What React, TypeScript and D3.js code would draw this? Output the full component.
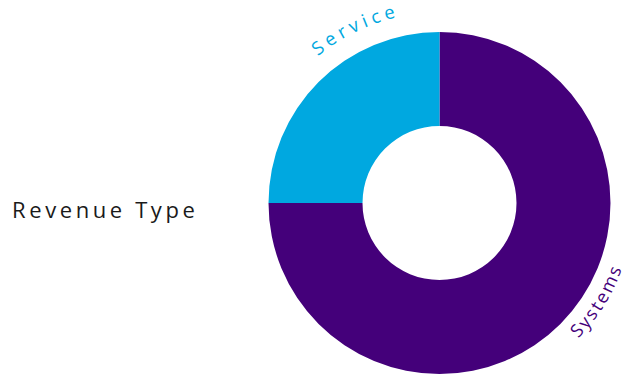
import React from "react";
import * as d3 from "d3";

const categories = ["Systems", "Service"];
const values = [75, 25];
const colors = ["#44007A", "#00A8E0"];
const title = "Revenue Type";

// layout (not data)
const W = 622, H = 377;
const cx = 439.5, cy = 203;
const outerR = 171, innerR = 77;
const labelLayout = [
  { angle: 121.8, r: 194, outward: false, size: 18, ls: 2.2 },
  { angle: -25.8, r: 190.5, outward: true, size: 18.5, ls: 4.4 },
];

function arcPath(aDeg: number, r: number, clockwise: boolean, span = 70) {
  const a0 = ((aDeg - span / 2) * Math.PI) / 180;
  const a1 = ((aDeg + span / 2) * Math.PI) / 180;
  const p = (a: number) => [cx + r * Math.sin(a), cy - r * Math.cos(a)];
  if (clockwise) {
    const [x0, y0] = p(a0), [x1, y1] = p(a1);
    return `M${x0},${y0} A${r},${r} 0 0 1 ${x1},${y1}`;
  } else {
    const [x0, y0] = p(a1), [x1, y1] = p(a0);
    return `M${x0},${y0} A${r},${r} 0 0 0 ${x1},${y1}`;
  }
}

export default function App() {
  const pie = d3
    .pie<number>()
    .sort(null)
    .startAngle(0)
    .endAngle(2 * Math.PI)
    .value((d) => d);
  const arcs = pie(values);
  const arc = d3.arc<d3.PieArcDatum<number>>().innerRadius(innerR).outerRadius(outerR);

  return (
    <svg
      width={W}
      height={H}
      style={{ position: "absolute", left: 0, top: 0, background: "#fff" }}
    >
      <defs>
        {labelLayout.map((l, i) => (
          <path key={i} id={`lp${i}`} d={arcPath(l.angle, l.r, l.outward)} fill="none" />
        ))}
      </defs>
      <g transform={`translate(${cx},${cy})`}>
        {arcs.map((a, i) => (
          <path key={i} d={arc(a) || ""} fill={colors[i]} />
        ))}
      </g>
      {categories.map((c, i) => (
        <text
          key={c}
          fill={colors[i]}
          fontFamily="'Open Sans', sans-serif"
          fontSize={labelLayout[i].size}
          letterSpacing={labelLayout[i].ls}
        >
          <textPath href={`#lp${i}`} startOffset="50%" textAnchor="middle">
            {c}
          </textPath>
        </text>
      ))}
      <text
        x={12}
        y={218}
        fill="#1a1a1a"
        fontFamily="'Open Sans', sans-serif"
        fontSize={22}
        letterSpacing={3.6}
      >
        {title}
      </text>
    </svg>
  );
}
